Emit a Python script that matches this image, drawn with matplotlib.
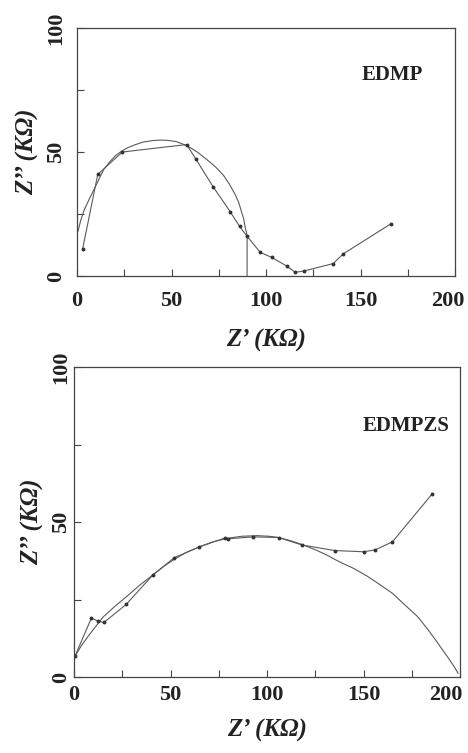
import numpy as np
import matplotlib.pyplot as plt
import matplotlib.transforms as mtransforms

plt.rcParams['font.family'] = ['Liberation Serif', 'DejaVu Serif']

edmp_x = [3, 11, 24, 58, 63, 72, 81, 86, 90, 97, 103, 111, 115.5, 120, 135.5, 141, 166]
edmp_y = [11, 41, 50, 53, 47, 36, 26, 20, 16, 9.5, 7.5, 4, 1.5, 2, 5, 9, 21]
edmp_fit_x = [0.5, 2, 4, 7, 11, 14, 17.5, 20.5, 23.5, 27, 31, 35, 40, 44, 48, 52.5, 56, 60,
              64, 68.6, 73, 77.4, 80.5, 83.6, 85.5, 87, 88.2, 89, 89.6, 90, 90]
edmp_fit_y = [18, 22.5, 27, 31.8, 38, 42.8, 46.2, 48.6, 50.3, 51.8, 53, 54, 54.6, 54.8, 54.7, 54.2,
              53.2, 51.7, 49.8, 47, 44.2, 40.7, 37.2, 33, 29.8, 26, 23, 19.6, 17.8, 16.3, 0]

# EDMPZS
edmpzs_x = [0.5, 9, 12.5, 15.5, 27, 41, 52, 65, 78, 80, 93, 106, 118, 135, 150, 156, 165, 185.5]
edmpzs_y = [6.7, 19, 18, 17.6, 23.4, 33, 38.5, 42, 44.8, 44.6, 45.2, 45, 42.6, 40.8, 40.4, 41, 43.6, 59]
edmpzs_fit_x = [0.5, 4, 8, 15, 21, 27, 34, 41, 47, 52, 58, 65, 72, 80, 87, 95, 101, 106, 112, 118,
                126, 132, 138, 145, 152, 158, 165, 171, 178, 183, 188, 191, 194, 197, 199]
edmpzs_fit_y = [6.7, 10.3, 13.7, 19.3, 22.7, 25.8, 29.6, 33, 35.9, 38, 40.1, 42, 43.6, 44.8, 45.4, 45.6,
                45.4, 45, 44, 42.8, 40.8, 39, 37, 35, 32.5, 30, 27, 23.5, 19.5, 15.6, 11.4, 8.7, 6.1, 3.3, 1.2]

panels = [
    # data, label, axes box in px (l, t, r, b), x tick pad, y tick pad, xlabelpad, ylabelpad, text pos, last-label shift
    (edmp_x, edmp_y, edmp_fit_x, edmp_fit_y, 'EDMP', [77, 28, 455, 276], 11, 8, 13, 5, (0.835, 0.81), -7),
    (edmpzs_x, edmpzs_y, edmpzs_fit_x, edmpzs_fit_y, 'EDMPZS', [74, 367, 460, 677], 6, 2, 10, 5, (0.86, 0.81), -14),
]

W, H = 468, 753
fig = plt.figure(figsize=(W / 100, H / 100), dpi=100)
line_col = '#5a5a5a'

for x, y, fx, fy, name, box, xpad, ypad, xlp, ylp, txt, shift in panels:
    l, t, r, b = box
    ax = fig.add_axes([l / W, 1 - b / H, (r - l) / W, (b - t) / H])
    ax.plot(fx, fy, color=line_col, lw=0.8)
    ax.plot(x, y, color=line_col, lw=0.8, marker='o', ms=1.8, mfc='#333333', mec='#333333')
    ax.set_xlim(0, 200)
    ax.set_ylim(0, 100)
    ax.set_xticks([0, 50, 100, 150, 200])
    ax.set_xticks([25, 75, 125, 175], minor=True)
    ax.set_yticks([0, 50, 100])
    ax.set_yticks([25, 75], minor=True)
    ax.tick_params(which='both', direction='in', length=5, width=0.8, color='#444444')
    ax.tick_params(axis='x', which='major', pad=xpad, labelsize=16)
    ax.tick_params(axis='y', which='major', pad=ypad, labelsize=16, labelrotation=90)
    for lab in ax.get_xticklabels() + ax.get_yticklabels():
        lab.set_fontweight('bold')
        lab.set_color('#222222')
    for lab in ax.get_yticklabels():
        lab.set_va('center')
    last = ax.get_xticklabels()[-1]
    last.set_transform(last.get_transform() +
                       mtransforms.ScaledTranslation(shift / 100, 0, fig.dpi_scale_trans))
    for s in ax.spines.values():
        s.set_color('#444444')
        s.set_linewidth(0.9)
    ax.set_xlabel('Z’ (KΩ)', fontsize=18, fontweight='bold', style='italic', labelpad=xlp, color='#222222')
    ax.set_ylabel('Z’’ (KΩ)', fontsize=18, fontweight='bold', style='italic', labelpad=ylp, color='#222222')
    ax.text(txt[0], txt[1], name, transform=ax.transAxes, ha='center', va='center',
            fontsize=15, fontweight='bold', color='#222222')

fig.savefig('out.png', dpi=100)
